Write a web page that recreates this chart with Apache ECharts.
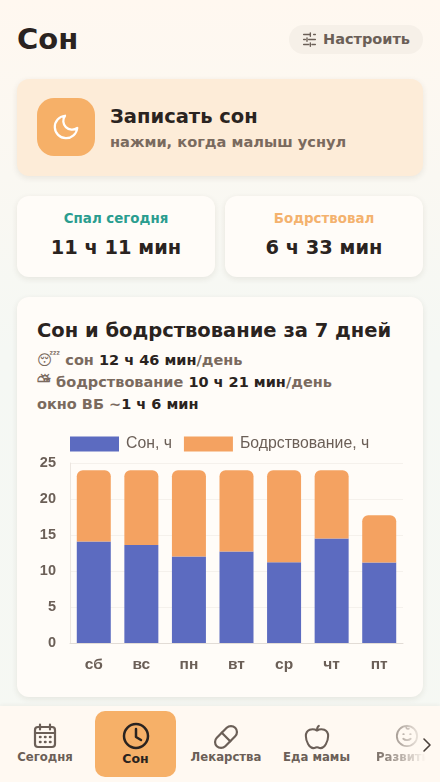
<!DOCTYPE html>
<html lang="ru"><head><meta charset="utf-8">
<script src="https://cdn.jsdelivr.net/npm/echarts@6/dist/echarts.min.js"></script>
<style>
*{box-sizing:border-box;margin:0;padding:0}
html,body{width:440px;height:782px;overflow:hidden}
body{position:relative;font-family:"DejaVu Sans",sans-serif;background:linear-gradient(180deg,#fff8f0 0%,#f5f8f4 45%,#f6f8f3 100%);color:#2a2320}
.a{position:absolute;white-space:nowrap}
.card{position:absolute;border-radius:12px;background:#fffcf8;box-shadow:0 2px 6px rgba(60,40,20,.09)}
b{font-weight:700}
.nav{position:absolute;left:0;top:706px;width:440px;height:76px;background:#fff9f2;box-shadow:0 -1px 4px rgba(60,40,20,.05);overflow:hidden}
.lbl{position:absolute;font-weight:700;font-size:11.7px;color:#6b5f57;transform:translateX(-50%);white-space:nowrap}
svg{position:absolute;fill:none;stroke-linecap:round;stroke-linejoin:round}
</style></head><body>
<div class="a" style="left:17px;top:18px;font-size:29px;font-weight:700;line-height:42px">Сон</div>
<div class="a" style="left:289px;top:25px;width:134px;height:29px;border-radius:15px;background:#f6f0e8"></div>
<svg style="left:302px;top:32px" width="15" height="15" viewBox="0 0 18 18" stroke="#6b5f57" stroke-width="1.7"><path d="M2 3h8M14 3h2M10 1v4M2 9h2M8 9h8M6 7v4M2 15h6M12 15h4M10 13v4"/></svg>
<div class="a" style="left:323px;top:29px;font-size:14.5px;font-weight:700;color:#6b5f57;line-height:20px">Настроить</div>

<div class="card" style="left:17px;top:79px;width:406px;height:97px;background:#fdecd8"></div>
<div class="a" style="left:37px;top:98px;width:58px;height:58px;border-radius:17px;background:#f6b068"></div>
<svg style="left:51px;top:112px" width="30" height="30" viewBox="0 0 24 24" stroke="#fff" stroke-width="1.8"><path d="M21 12.790A9 9 0 1 1 11.210 3 7 7 0 0 0 21 12.790z"/></svg>
<div class="a" style="left:110px;top:104px;font-size:19.5px;font-weight:700;line-height:26px">Записать сон</div>
<div class="a" style="left:110px;top:132px;font-size:14.6px;font-weight:700;color:#7a6a5e;line-height:20px">нажми, когда малыш уснул</div>

<div class="card" style="left:17px;top:196px;width:198px;height:81px"></div>
<div class="card" style="left:225px;top:196px;width:198px;height:81px"></div>
<div class="a" style="left:17px;width:198px;top:210px;text-align:center;font-size:13.4px;font-weight:700;color:#2a9d8f;line-height:18px">Спал сегодня</div>
<div class="a" style="left:225px;width:198px;top:210px;text-align:center;font-size:13.4px;font-weight:700;color:#f4b26e;line-height:18px">Бодрствовал</div>
<div class="a" style="left:17px;width:198px;top:235px;text-align:center;font-size:19.4px;font-weight:700;line-height:26px">11 ч 11 мин</div>
<div class="a" style="left:225px;width:198px;top:235px;text-align:center;font-size:19.4px;font-weight:700;line-height:26px">6 ч 33 мин</div>

<div class="card" style="left:17px;top:297px;width:406px;height:400px"></div>
<div class="a" style="left:37px;top:317px;font-size:19.5px;font-weight:700;line-height:27px">Сон и бодрствование за 7 дней</div>
<div class="a" style="left:37px;top:350px;font-size:14.5px;font-weight:700;color:#7a6a5e;line-height:20px">😴 сон <span style="color:#2a2320">12 ч 46 мин</span>/день</div>
<div class="a" style="left:37px;top:372px;font-size:14.5px;font-weight:700;color:#7a6a5e;line-height:20px"><span style="font-family:'DejaVu Sans';font-size:17px;line-height:0">&#x26C5;&#xFE0E;</span> бодрствование <span style="color:#2a2320">10 ч 21 мин</span>/день</div>
<div class="a" style="left:37px;top:394px;font-size:14.5px;font-weight:700;color:#7a6a5e;line-height:20px">окно ВБ ~<span style="color:#2a2320">1 ч 6 мин</span></div>
<div id="c" class="a" style="left:17px;top:425px;width:406px;height:270px"></div>

<div class="nav">
<div class="a" style="left:95px;top:5px;width:81px;height:66px;border-radius:10px;background:#f6b068"></div>
<svg style="left:33px;top:17px" width="24" height="26" viewBox="0 0 24 26" stroke="#6b5f57" stroke-width="2.200"><rect x="2" y="4" width="20" height="20" rx="3"/><path d="M2 10h20M7 1.500v5M17 1.500v5"/><path d="M7 14h.5M12 14h.5M17 14h.5M7 19h.5M12 19h.5M17 19h.5" stroke-width="2.500"/></svg>
<div class="lbl" style="left:45px;top:44px">Сегодня</div>
<svg style="left:121px;top:15px" width="30" height="30" viewBox="0 0 30 30" stroke="#2a2320" stroke-width="2.500"><circle cx="15" cy="15" r="12"/><path d="M15 8v8l5 3"/></svg>
<div class="lbl" style="left:135.500px;top:45px;color:#2a2320;font-size:12.500px">Сон</div>
<svg style="left:212px;top:17px" width="28" height="28" viewBox="0 0 28 28" stroke="#6b5f57" stroke-width="2.200"><g transform="rotate(-45 14 14)"><rect x="1" y="8" width="26" height="12" rx="6"/><path d="M14 8v12"/></g></svg>
<div class="lbl" style="left:226px;top:44px">Лекарства</div>
<svg style="left:304px;top:18px" width="26" height="26" viewBox="0 0 28 28" stroke="#6b5f57" stroke-width="2.200"><path d="M14 7C9 4 2 6 2 13c0 6 4 13 8 13 2 0 3-1 4-1s2 1 4 1c4 0 8-7 8-13 0-7-7-9-12-6zM14 7c0-2 0-4 2-5"/></svg>
<div class="lbl" style="left:316.500px;top:44px">Еда мамы</div>
<div class="a" style="left:376px;top:0;width:64px;height:76px;overflow:hidden;-webkit-mask-image:linear-gradient(90deg,rgba(0,0,0,.9) 0%,rgba(0,0,0,.6) 30%,transparent 78%);mask-image:linear-gradient(90deg,rgba(0,0,0,.9) 0%,rgba(0,0,0,.6) 30%,transparent 78%)">
<svg style="left:19px;top:18px" width="24" height="24" viewBox="0 0 26 26" stroke="#6b5f57" stroke-width="2"><circle cx="13" cy="13" r="11"/><path d="M9 11h.5M16.500 11h.5M9 16c2 2 6 2 8 0M13 2c-2 2 0 4 2 3"/></svg>
<div class="a" style="left:0;top:44px;font-size:11.7px;font-weight:700;color:#6b5f57">Развитие</div>
</div>
<svg style="left:421px;top:31px" width="12" height="16" viewBox="0 0 12 16" stroke="#4a413b" stroke-width="1.600"><path d="M3 2l6 6-6 6"/></svg>
</div>

<script>
var categories = ['сб','вс','пн','вт','ср','чт','пт'];
var sleepHours = [14.1,13.6,12.0,12.7,11.2,14.5,11.18];
var wakeHours = [9.9,10.4,12.0,11.3,12.8,9.5,6.55];
var yTicks = [0,5,10,15,20,25];
var chart = echarts.init(document.getElementById('c'),null,{renderer:'canvas'});
var font='"Liberation Sans",Arial,sans-serif';
chart.setOption({
 animation:false,
 legend:{left:53,top:11,itemWidth:49,itemHeight:15,itemGap:12,padding:0,
  icon:'rect',
  textStyle:{fontFamily:font,fontSize:15.8,color:'#6b5f57',padding:[0,0,0,2]},
  data:['Сон, ч','Бодрствование, ч']},
 grid:{left:53,top:38,width:333,height:180,containLabel:false},
 xAxis:{type:'category',data:categories,
  axisLine:{lineStyle:{color:'#e2dcd6',width:1}},axisTick:{show:false},
  axisLabel:{fontFamily:font,fontWeight:'bold',fontSize:15.5,color:'#6b5f57',margin:14}},
 yAxis:{type:'value',min:yTicks[0],max:yTicks[yTicks.length-1],interval:5,
  axisLine:{show:true,lineStyle:{color:'#ece6e0',width:1}},axisTick:{show:false},
  splitLine:{lineStyle:{color:'#f5f1ec',width:1}},
  axisLabel:{fontFamily:font,fontWeight:'bold',fontSize:14.5,color:'#6b5f57',margin:14}},
 series:[
  {name:'Сон, ч',type:'bar',stack:'d',data:sleepHours,barWidth:34,itemStyle:{color:'#5c6bc0'}},
  {name:'Бодрствование, ч',type:'bar',stack:'d',data:wakeHours,barWidth:34,itemStyle:{color:'#f4a261',borderRadius:[6,6,0,0]}}
 ]
});
</script>
</body></html>
